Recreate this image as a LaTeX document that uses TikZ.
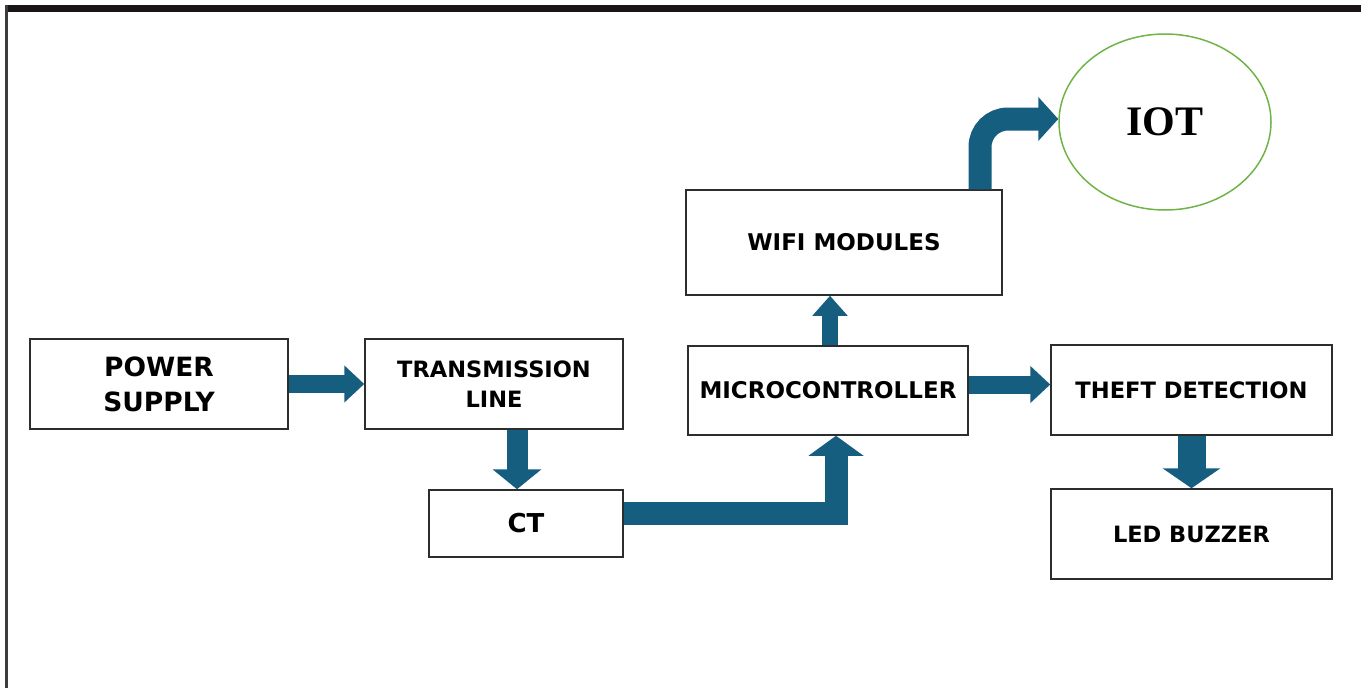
\documentclass[tikz,border=0pt]{standalone}
\usepackage{fontspec}
\setsansfont{DejaVu Sans}
\newfontfamily\iotfont{Liberation Serif}
\usetikzlibrary{arrows.meta,shapes.geometric,calc}

\definecolor{flowblue}{RGB}{22,94,128}
\definecolor{boxline}{RGB}{45,45,45}
\definecolor{iotgreen}{RGB}{112,180,72}

\tikzset{every picture/.style={line width=0.75pt}}
\tikzset{
  box/.style={draw=boxline, line width=1.5pt, fill=white, inner sep=0pt, align=center,
    font=\sffamily\bfseries\fontsize{23}{30}\selectfont},
  blk/.style 2 args={draw=flowblue, line width=#1, line join=miter,
    -{Triangle[width=#2, length=20pt]}},
}

\begin{document}
\begin{tikzpicture}[x=1pt,y=1pt,yscale=-1,xscale=1]
    \useasboundingbox (0,0) rectangle (1365,688);

    %Shape: frame top bar and left edge
    \fill [color={rgb, 255:red, 25; green, 20; blue, 22 }] (5,5) rectangle (1361,12);
    \fill [color={rgb, 255:red, 60; green, 60; blue, 60 }] (5,5) rectangle (8,688);

    %Shape: Rectangle
    \node (ps) at (159,384) [box, minimum width=258pt, minimum height=90pt,
      font=\sffamily\bfseries\fontsize{26.5}{35}\selectfont] {POWER\\SUPPLY};
    %Shape: Rectangle
    \node (tl) at (494,384) [box, minimum width=258pt, minimum height=90pt,
      font=\sffamily\bfseries\fontsize{22.5}{30}\selectfont] {TRANSMISSION\\LINE};
    %Shape: Rectangle
    \node (ct) at (526,523.5) [box, minimum width=194pt, minimum height=67pt,
      font=\sffamily\bfseries\fontsize{26}{30}\selectfont] {CT};
    %Shape: Rectangle
    \node (mc) at (828,390.5) [box, minimum width=280pt, minimum height=89pt] {MICROCONTROLLER};
    %Shape: Rectangle
    \node (wifi) at (844,242.5) [box, minimum width=316pt, minimum height=105pt] {WIFI MODULES};
    %Shape: Rectangle
    \node (th) at (1191.5,390) [box, minimum width=281pt, minimum height=90pt,
      font=\sffamily\bfseries\fontsize{22.6}{30}\selectfont] {THEFT DETECTION};
    %Shape: Rectangle
    \node (led) at (1191.5,534) [box, minimum width=281pt, minimum height=90pt,
      font=\sffamily\bfseries\fontsize{22.5}{30}\selectfont] {LED BUZZER};
    %Shape: Ellipse
    \node (iot) at (1165,122) [ellipse, draw=iotgreen, line width=1.5pt, inner sep=0pt,
      minimum width=212pt, minimum height=176pt,
      font=\iotfont\bfseries\fontsize{42}{46}\selectfont] {IOT};

    %Block Arrows
    \draw [blk={18pt}{36pt}] (ps.east) -- (tl.west);
    \draw [blk={21pt}{48pt}] ($(tl.south)+(23,0)$) -- ($(ct.north)+(-9,0)$);
    \draw [blk={23pt}{54pt}] ($(ct.east)+(0,-10)$) -| ($(mc.south)+(8,0)$);
    \draw [blk={16pt}{34pt}] ($(mc.north)+(2,0)$) -- ($(mc.north |- wifi.south)+(2,0)$);
    \draw [blk={18pt}{36pt}] ($(mc.east)+(0,-6)$) -- ($(mc.east -| th.west)+(0,-6)$);
    \draw [blk={28pt}{57pt}] (th.south) -- (led.north);
    \draw [blk={23pt}{43pt}, rounded corners=28pt] ($(wifi.north)+(136,0)$) |- ($(iot.west)+(0,-3)$);

  \end{tikzpicture}
\end{document}
